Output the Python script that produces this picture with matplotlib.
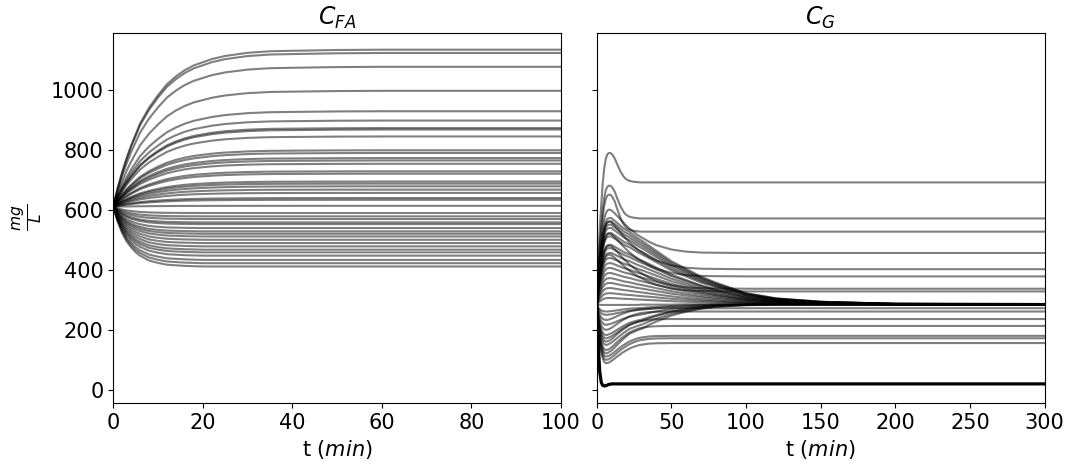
"""Concentration trajectories C_FA and C_G over time for many runs."""
import numpy as np
import matplotlib.pyplot as plt

# ---- C_FA (left) ----
t_fa = [0, 1, 2, 3, 4, 5, 6, 7, 8, 9, 10, 12, 14, 16, 18, 20, 22, 25, 30,
        35, 40, 50, 60, 100]
fa_start = 610
# fraction of the way from start to the final level
fa_prog_up = [0, .12, .22, .31, .39, .46, .53, .58, .63, .67, .71, .78, .83,
              .87, .9, .92, .94, .96, .98, .99, .993, .998, 1, 1]
fa_prog_down = [0, .25, .44, .58, .68, .76, .82, .86, .9, .92, .94, .97, .98,
                .99, .995, 1, 1, 1, 1, 1, 1, 1, 1, 1]
fa_final = [1133, 1122, 1076, 996, 928, 897, 872, 867, 844, 798, 789, 772,
            764, 753, 728, 720, 694, 687, 678, 667, 656, 639, 633, 613,
            589, 578, 569, 558, 552, 539, 528, 520, 511, 500, 489, 478,
            467, 458, 447, 433, 422, 411]

# ---- C_G (right) ----
t_g = [0, 1, 2, 3, 4, 5, 6, 7, 8, 9, 10, 11, 12, 13, 14, 15, 16, 17, 18, 19,
       20, 22, 25, 28, 30, 35, 40, 50, 60, 70, 80, 100, 120, 150, 200, 300]
g_start = 283
# weight of the extreme value (peak / trough) over time
w_peak_fast = [0, .3, .5, .66, .8, .9, .96, .99, 1, 1,
               .97, .9, .82, .7, .58, .47, .36, .28, .2, .14, .1,
               .05, .02, .005, 0, 0, 0, 0, 0, 0, 0, 0, 0, 0, 0, 0]
w_peak_mid = [0, .3, .5, .66, .8, .9, .96, .99, 1, 1,
              .98, .95, .92, .88, .85, .81, .77, .73, .7, .66, .63,
              .56, .48, .4, .36, .26, .18, .08, .03, .01, .005, 0, 0, 0, 0, 0]
w_peak_slow = [0, .3, .5, .66, .8, .9, .96, .99, 1, 1,
               1, .98, .97, .955, .94, .925, .91, .895, .88, .87, .86,
               .84, .8, .76, .74, .68, .62, .5, .41, .32, .25, .13, .07, .03,
               .005, 0]
w_dip_fast = [0, .4, .65, .82, .92, .98, 1, .99, .97, .93,
              .88, .83, .77, .71, .65, .6, .54, .49, .44, .4, .35,
              .27, .18, .11, .08, .03, .01, 0, 0, 0, 0, 0, 0, 0, 0, 0]
w_dip_slow = [0, .4, .65, .82, .92, .98, 1, 1, .98, .96,
              .94, .91, .88, .85, .82, .79, .76, .73, .7, .68, .65,
              .6, .56, .52, .5, .42, .35, .23, .15, .09, .05, .015, 0, 0, 0, 0]
peak_step = 8  # index in t_g from which the start value no longer counts
dip_step = 6

# (extreme, final) pairs
g_peak_fast = [(789, 691), (680, 571), (650, 527)]
g_peak_mid = [(600, 456), (560, 402), (520, 378), (480, 337), (450, 328)]
g_peak_slow = [(572, 285), (561, 285), (550, 285), (539, 284), (522, 286),
               (511, 285), (483, 284), (472, 286), (456, 285), (439, 285),
               (422, 284), (406, 285), (389, 286), (372, 285), (356, 285),
               (339, 284), (322, 285), (306, 285)]
g_dip_fast = [(89, 156), (100, 172), (111, 180), (133, 213), (161, 236),
              (200, 261), (233, 272)]
g_dip_slow = [(122, 285), (150, 284), (172, 286), (183, 285), (217, 285),
              (250, 284), (261, 285)]
g_flat = [283, 283, 283, 283, 283, 283, 283, 283, 283, 283, 283, 283, 283,
          283, 283, 283, 283, 283, 283, 283, 283, 283, 283, 283, 284, 284,
          284, 284, 285, 285, 285, 285, 285, 285, 285, 285]
g_black = [283, 150, 60, 25, 15, 13, 14, 16, 18, 19, 20, 20, 20, 20, 20, 20,
           20, 20, 20, 20, 20, 20, 20, 20, 20, 20, 20, 20, 20, 20, 20, 20,
           20, 20, 20, 20]

line_kw = dict(color='k', alpha=0.5, linewidth=1.5)

fig, (ax1, ax2) = plt.subplots(1, 2, sharey=True, figsize=(10.68, 4.63), dpi=100)
fig.subplots_adjust(left=0.106, right=0.978, bottom=0.13, top=0.929, wspace=0.08)

t1 = np.array(t_fa)
for f in fa_final:
    prog = np.array(fa_prog_up if f >= fa_start else fa_prog_down)
    ax1.plot(t1, fa_start + (f - fa_start) * prog, **line_kw)

t2 = np.array(t_g)


def blend(w, ext, fin, step):
    w = np.array(w)
    w_start = np.where(np.arange(len(w)) < step, 1 - w, 0.0)
    w_fin = 1 - w - w_start
    return g_start * w_start + ext * w + fin * w_fin


for ext, fin in g_peak_fast:
    ax2.plot(t2, blend(w_peak_fast, ext, fin, peak_step), **line_kw)
for ext, fin in g_peak_mid:
    ax2.plot(t2, blend(w_peak_mid, ext, fin, peak_step), **line_kw)
for ext, fin in g_peak_slow:
    ax2.plot(t2, blend(w_peak_slow, ext, fin, peak_step), **line_kw)
for ext, fin in g_dip_fast:
    ax2.plot(t2, blend(w_dip_fast, ext, fin, dip_step), **line_kw)
for ext, fin in g_dip_slow:
    ax2.plot(t2, blend(w_dip_slow, ext, fin, dip_step), **line_kw)
ax2.plot(t2, g_flat, **line_kw)
ax2.plot(t2, g_black, color='k', linewidth=2.3)

ax1.set_xlim(0, 100)
ax2.set_xlim(0, 300)
ax1.set_title('$C_{FA}$', fontsize=17)
ax2.set_title('$C_{G}$', fontsize=17)
ax1.set_xlabel('t ($min$)', fontsize=15)
ax2.set_xlabel('t ($min$)', fontsize=15)
ax1.set_ylabel(r'$\frac{mg}{L}$', fontsize=16)
for ax in (ax1, ax2):
    ax.tick_params(labelsize=15)

plt.savefig('out.png', dpi=100)
